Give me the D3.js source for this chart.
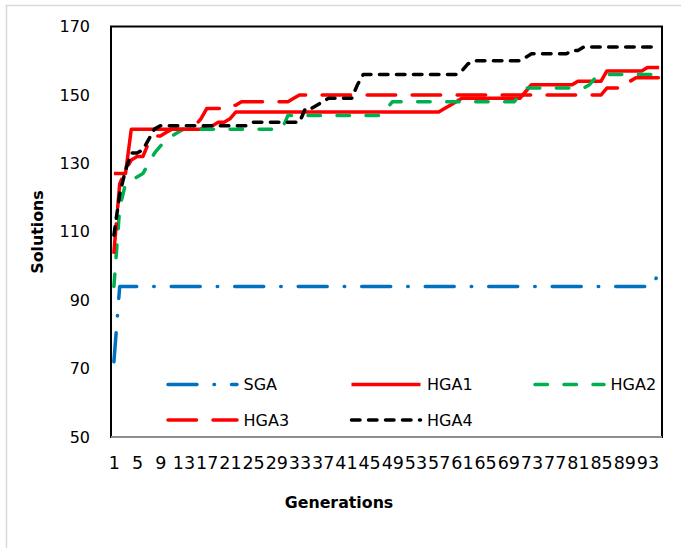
<!DOCTYPE html>
<html lang="en">
<head>
	<meta charset="UTF-8">
	<title>Solutions by Generation</title>
	<script src="https://d3js.org/d3.v7.min.js"></script>
	<style>
		body { margin: 0; background: #fff; }
		text { font-family: "DejaVu Sans", sans-serif; fill: #000; }
	</style>
</head>
<body>

	<svg width="681" height="548"></svg>

	<script>

		// generations 1..95 on the category axis, a label every 4th
		var generations = d3.range(1, 96);
		var tickLabels = [1, 5, 9, 13, 17, 21, 25, 29, 33, 37, 41, 45, 49, 53, 57, 61, 65, 69, 73, 77, 81, 85, 89, 93];
		var yTicks = [50, 70, 90, 110, 130, 150, 170];

		var sga = [
			72, 94, 94, 94, 94, 94, 94, 94, 94, 94,
			94, 94, 94, 94, 94, 94, 94, 94, 94, 94,
			94, 94, 94, 94, 94, 94, 94, 94, 94, 94,
			94, 94, 94, 94, 94, 94, 94, 94, 94, 94,
			94, 94, 94, 94, 94, 94, 94, 94, 94, 94,
			94, 94, 94, 94, 94, 94, 94, 94, 94, 94,
			94, 94, 94, 94, 94, 94, 94, 94, 94, 94,
			94, 94, 94, 94, 94, 94, 94, 94, 94, 94,
			94, 94, 94, 94, 94, 94, 94, 94, 94, 94,
			94, 94, 94, 94, 99
		];

		var hga1 = [
			127, 127, 127, 140, 140, 140, 140, 140, 140, 140,
			140, 140, 140, 140, 140, 140, 141, 141, 142, 142,
			143, 145, 145, 145, 145, 145, 145, 145, 145, 145,
			145, 145, 145, 145, 145, 145, 145, 145, 145, 145,
			145, 145, 145, 145, 145, 145, 145, 145, 145, 145,
			145, 145, 145, 145, 145, 145, 145, 146, 147, 148,
			149, 149, 149, 149, 149, 149, 149, 149, 149, 149,
			149, 151, 153, 153, 153, 153, 153, 153, 153, 153,
			154, 154, 154, 154, 154, 157, 157, 157, 157, 157,
			157, 157, 158, 158, 158
		];

		var hga2 = [
			94, 117, 124, 125, 126, 127, 130, 133, 135, 137,
			138, 139, 140, 140, 140, 140, 140, 140, 140, 140,
			140, 140, 140, 140, 140, 140, 140, 140, 140, 140,
			144, 144, 144, 144, 144, 144, 144, 144, 144, 144,
			144, 144, 144, 144, 144, 144, 144, 146, 148, 148,
			148, 148, 148, 148, 148, 148, 148, 148, 148, 148,
			148, 148, 148, 148, 148, 148, 148, 148, 148, 148,
			150, 152, 152, 152, 152, 152, 152, 152, 152, 152,
			152, 152, 153, 155, 156, 156, 156, 156, 156, 156,
			156, 156, 156, 156, 156
		];

		var hga3 = [
			104, 124, 128, 131, 132, 132, 136, 138, 138, 139,
			140, 140, 140, 140, 141, 143, 146, 146, 146, 146,
			147, 147, 148, 148, 148, 148, 148, 148, 148, 148,
			148, 149, 150, 150, 150, 150, 150, 150, 150, 150,
			150, 150, 150, 150, 150, 150, 150, 150, 150, 150,
			150, 150, 150, 150, 150, 150, 150, 150, 150, 150,
			150, 150, 150, 150, 150, 150, 150, 150, 150, 150,
			150, 150, 150, 150, 150, 150, 150, 150, 150, 150,
			150, 150, 150, 150, 150, 152, 152, 152, 152, 154,
			155, 155, 155, 155, 155
		];

		var hga4 = [
			109, 121, 128, 133, 133, 134, 137, 140, 141, 141,
			141, 141, 141, 141, 141, 141, 141, 141, 141, 141,
			141, 141, 141, 141, 142, 142, 142, 142, 142, 142,
			142, 142, 142, 146, 146, 147, 148, 149, 149, 149,
			149, 149, 153, 156, 156, 156, 156, 156, 156, 156,
			156, 156, 156, 156, 156, 156, 156, 156, 156, 156,
			157, 159, 160, 160, 160, 160, 160, 160, 160, 160,
			160, 161, 162, 162, 162, 162, 162, 162, 162, 163,
			163, 164, 164, 164, 164, 164, 164, 164, 164, 164,
			164, 164, 164, 164, 164
		];

		var seriesNames = ["SGA", "HGA1", "HGA2", "HGA3", "HGA4"];
		var seriesValues = [sga, hga1, hga2, hga3, hga4];

		// line look for each series (Excel style dashes)
		var styles = {
			"SGA":  { color: "#0070C0", dash: "29,17,0.5,17" },
			"HGA1": { color: "#FF0000", dash: null },
			"HGA2": { color: "#00B050", dash: "12.5,16.5" },
			"HGA3": { color: "#FF0000", dash: "28.5,16.5" },
			"HGA4": { color: "#000000", dash: "8.5,8.5" }
		};

		var plot = { left: 111, right: 662, top: 26.5, bottom: 437 };

		var svg = d3.select("svg");

		// outer chart frame
		svg.append("rect")
			.attr("x", 6.5)
			.attr("y", 5.5)
			.attr("width", 700)
			.attr("height", 600)
			.attr("fill", "#fff")
			.attr("stroke", "#D9D9D9")
			.attr("stroke-width", 1.5);

		var xScale = d3.scalePoint()
			.domain(generations)
			.range([plot.left, plot.right])
			.padding(0.5);

		var yScale = d3.scaleLinear()
			.domain([50, 170])
			.range([plot.bottom, plot.top]);

		// Y axis labels
		svg.append("g")
			.attr("transform", "translate(" + plot.left + ",0)")
			.call(d3.axisLeft(yScale).tickValues(yTicks).tickSize(0).tickPadding(21))
			.call(function(g) { g.select(".domain").remove(); })
			.selectAll("text")
			.style("font-size", "16px")
			.style("font-family", "DejaVu Sans");

		// X axis labels
		svg.append("g")
			.attr("transform", "translate(0," + plot.bottom + ")")
			.call(d3.axisBottom(xScale).tickValues(tickLabels).tickSize(0).tickPadding(20))
			.call(function(g) { g.select(".domain").remove(); })
			.selectAll("text")
			.style("font-size", "17.5px")
			.style("font-family", "DejaVu Sans");

		var line = d3.line()
			.x(function(d, i) { return xScale(generations[i]); })
			.y(function(d) { return yScale(d); });

		seriesNames.forEach(function(name, k) {
			var st = styles[name];
			svg.append("path")
				.datum(seriesValues[k])
				.attr("fill", "none")
				.attr("stroke", st.color)
				.attr("stroke-width", 3.5)
				.attr("stroke-linejoin", "round")
				.attr("stroke-linecap", st.dash ? "round" : "butt")
				.attr("stroke-dasharray", st.dash)
				.attr("d", line);
		});

		// plot area border
		svg.append("rect")
			.attr("x", plot.left)
			.attr("y", plot.top)
			.attr("width", plot.right - plot.left)
			.attr("height", plot.bottom - plot.top)
			.attr("fill", "none")
			.attr("stroke", "#000")
			.attr("stroke-width", 2);

		svg.append("line")
			.attr("x1", plot.left)
			.attr("x2", plot.right)
			.attr("y1", plot.bottom)
			.attr("y2", plot.bottom)
			.attr("stroke", "#BFBFBF")
			.attr("stroke-width", 1.5);

		// legend, two rows inside the plot
		var legendPos = [
			{ x: 168, y: 384.5 },
			{ x: 351.5, y: 384.5 },
			{ x: 535, y: 384.5 },
			{ x: 168, y: 420 },
			{ x: 351.5, y: 420 }
		];

		var legend = svg.selectAll(".legend")
			.data(seriesNames)
			.enter()
			.append("g")
			.attr("class", "legend")
			.attr("transform", function(d, i) {
				return "translate(" + legendPos[i].x + "," + legendPos[i].y + ")";
			});

		legend.append("path")
			.attr("d", "M0,0H69")
			.attr("fill", "none")
			.attr("stroke", function(d) { return styles[d].color; })
			.attr("stroke-width", 3.5)
			.attr("stroke-linecap", function(d) { return styles[d].dash ? "round" : "butt"; })
			.attr("stroke-dasharray", function(d) { return styles[d].dash; });

		legend.append("text")
			.attr("x", 75.5)
			.attr("dy", "0.36em")
			.style("font-size", "16px")
			.text(function(d) { return d; });

		// axis titles
		svg.append("text")
			.attr("x", 339)
			.attr("y", 508)
			.attr("text-anchor", "middle")
			.style("font-size", "15.8px")
			.style("font-weight", "bold")
			.text("Generations");

		svg.append("text")
			.attr("transform", "translate(43,232) rotate(-90)")
			.attr("text-anchor", "middle")
			.style("font-size", "15.8px")
			.style("font-weight", "bold")
			.text("Solutions");

	</script>

</body>
</html>
